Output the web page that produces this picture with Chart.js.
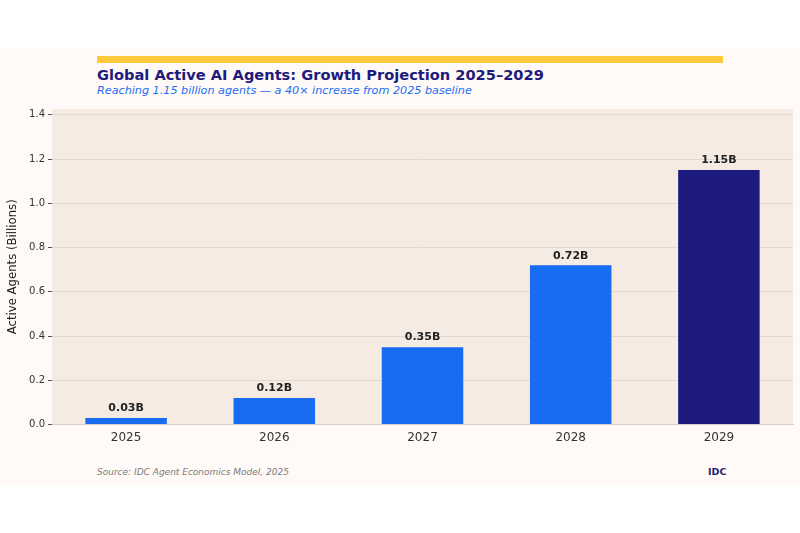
<!DOCTYPE html>
<html><head><meta charset="utf-8">
<script src="https://cdn.jsdelivr.net/npm/chart.js@4/dist/chart.umd.min.js"></script>
<style>
html,body{margin:0;padding:0;background:#ffffff;width:800px;height:533px;overflow:hidden;font-family:"DejaVu Sans",sans-serif;}
#fig{position:absolute;left:0;top:48px;width:800px;height:437px;background:#fffaf7;}
#bar{position:absolute;left:97px;top:56px;width:626px;height:7px;background:#ffc93c;}
#title{position:absolute;left:97px;top:66px;font-size:14.6px;font-weight:bold;color:#1e1b7e;white-space:nowrap;}
#sub{position:absolute;left:97px;top:84px;font-size:11.2px;font-style:italic;color:#1a6ef5;white-space:nowrap;}
#src{position:absolute;left:97px;top:467px;font-size:9px;font-style:italic;color:#7a7a7a;white-space:nowrap;}
#idc{position:absolute;left:708px;top:466px;font-size:9.5px;font-weight:bold;color:#1e1b7e;}
#wrap{position:absolute;left:0;top:100px;width:800px;height:351px;}
</style></head>
<body>
<div id="fig"></div>
<div id="bar"></div>
<div id="title">Global Active AI Agents: Growth Projection 2025–2029</div>
<div id="sub">Reaching 1.15 billion agents — a 40× increase from 2025 baseline</div>
<div id="wrap"><canvas id="c" width="800" height="351"></canvas></div>
<div id="src">Source: IDC Agent Economics Model, 2025</div>
<div id="idc">IDC</div>
<script>
const years = ["2025","2026","2027","2028","2029"];
const agents = [0.03, 0.12, 0.35, 0.72, 1.15];
const valueLabels = ["0.03B","0.12B","0.35B","0.72B","1.15B"];
const barColors = ["#176cf2","#176cf2","#176cf2","#176cf2","#1e1b7e"];

const bgPlugin = {
  id:'bg',
  beforeDraw(chart){
    const {ctx, chartArea:a} = chart;
    ctx.save();
    ctx.fillStyle = '#f5ebe3';
    ctx.fillRect(a.left, a.top, a.right-a.left, a.bottom-a.top);
    ctx.restore();
  }
};
const labelPlugin = {
  id:'vlabels',
  afterDatasetsDraw(chart){
    const {ctx} = chart;
    const meta = chart.getDatasetMeta(0);
    ctx.save();
    ctx.font = 'bold 11px "DejaVu Sans"';
    ctx.fillStyle = '#222222';
    ctx.textAlign = 'center';
    ctx.textBaseline = 'bottom';
    meta.data.forEach((el,i)=>{
      ctx.fillText(valueLabels[i], el.x, el.y - 4);
    });
    ctx.restore();
  }
};

new Chart(document.getElementById('c'), {
  type:'bar',
  data:{labels:years, datasets:[{data:agents, backgroundColor:barColors, barPercentage:0.55, categoryPercentage:1.0, borderWidth:0}]},
  options:{
    responsive:false, animation:false, devicePixelRatio:1,
    layout:{padding:{left:0,right:7,top:8,bottom:0}},
    plugins:{legend:{display:false}, tooltip:{enabled:false}},
    scales:{
      x:{
        grid:{display:false, drawTicks:false},
        border:{display:true, color:'#d9cfc7', width:1},
        ticks:{color:'#333333', font:{size:12, family:'DejaVu Sans'}, padding:6}
      },
      y:{
        min:0, max:1.426,
        afterFit(s){ s.width = 52; },
        grid:{color:'#e3d9d0', lineWidth:1, drawTicks:true, tickLength:4, tickColor:'#555555'},
        border:{display:false},
        ticks:{stepSize:0.2, includeBounds:false, color:'#333333', font:{size:10, family:'DejaVu Sans'}, padding:3,
          callback:v=>Number(v).toFixed(1)},
        title:{display:true, text:'Active Agents (Billions)', color:'#222222', font:{size:11.7, family:'DejaVu Sans'}, padding:{top:6,bottom:0}}
      }
    }
  },
  plugins:[bgPlugin, labelPlugin]
});
</script>
</body></html>
